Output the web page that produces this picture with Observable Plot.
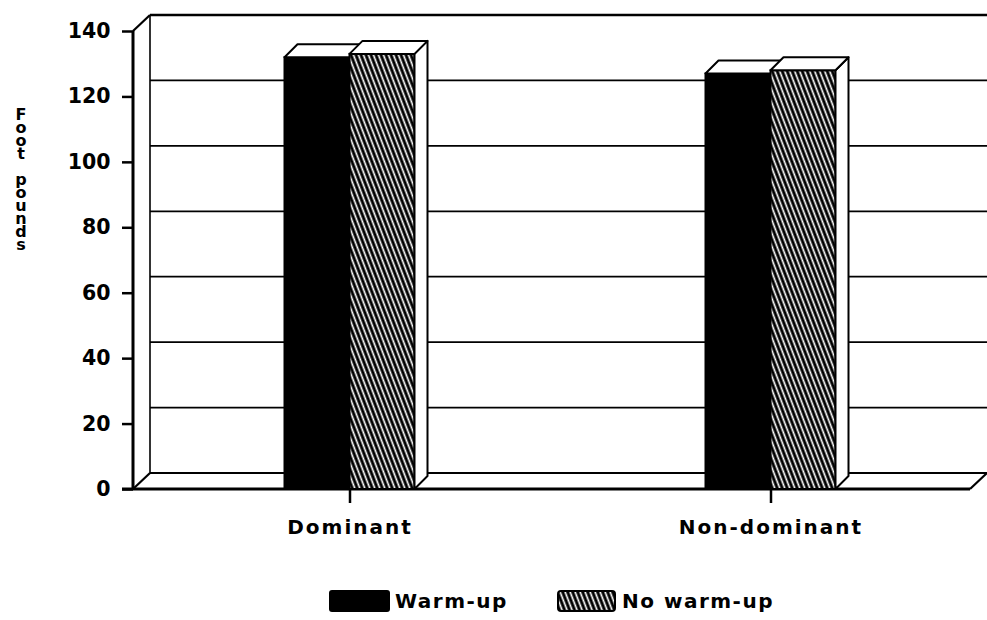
<!DOCTYPE html>
<html><head><meta charset="utf-8">
<script src="https://cdn.jsdelivr.net/npm/d3@7"></script>
<script src="https://cdn.jsdelivr.net/npm/@observablehq/plot@0.6"></script>
<style>
body{margin:0;background:#fff;font-family:"DejaVu Sans",sans-serif;}
#chart svg{display:block;}
#legend{position:relative;width:987px;height:60px;font-weight:bold;font-size:20px;letter-spacing:1.5px;color:#000;}
#legend .sw{position:absolute;top:30px;}
#legend .lab{position:absolute;top:29px;line-height:24px;white-space:nowrap;}
.ytitle{writing-mode:vertical-rl;text-orientation:upright;}
</style></head>
<body>
<div id="chart"></div>
<div id="legend"></div>
<script>
// ---- data ----
const categories = ["Dominant", "Non-dominant"];
const series = ["Warm-up", "No warm-up"];
const warmUp = [132, 127];
const noWarmUp = [133, 128];
const yTicks = [0, 20, 40, 60, 80, 100, 120, 140];
const yTitle = "Foot pounds";

const data = categories.flatMap((c, i) => [
  {category: c, series: series[0], value: warmUp[i]},
  {category: c, series: series[1], value: noWarmUp[i]}
]);

// ---- layout constants ----
const W = 987, H = 560;
const xRange = [138.5, 980.5];
const bw = (xRange[1] - xRange[0]) / categories.length;
const BAR_W = 65;
const FL = 133, FR = 970;   // front floor edge extents
const WD = 17, WDY = 16;    // wall depth
const BD = 13;              // bar depth

const plot = Plot.plot({
  width: W, height: H,
  marginLeft: 133, marginRight: 17, marginTop: 31, marginBottom: 71,
  style: {fontFamily: "DejaVu Sans", fontSize: "20px", fontWeight: "bold", color: "#000", background: "#fff", overflow: "visible"},
  x: {type: "band", domain: categories, range: xRange, padding: 0},
  y: {domain: [0, 140]},
  marks: [
    Plot.axisY({ticks: yTicks, tickSize: 11, tickPadding: 12, label: null, strokeWidth: 2.5, fontSize: 20.5}),
    Plot.axisX({tickSize: 14, tickPadding: 16, label: null, strokeWidth: 2.5, fontSize: 20}),
    Plot.barY(data.filter(d => d.series === series[0]), {
      x: "category", y: "value", fill: "#000", stroke: "#000", strokeWidth: 2,
      insetLeft: bw / 2 - BAR_W, insetRight: bw / 2
    }),
    Plot.barY(data.filter(d => d.series === series[1]), {
      x: "category", y: "value", fill: "url(#hatch)", stroke: "#000", strokeWidth: 2,
      insetLeft: bw / 2, insetRight: bw / 2 - BAR_W
    })
  ]
});
document.getElementById("chart").appendChild(plot);

const xs = plot.scale("x"), ys = plot.scale("y");
const X = xs.apply ? (v => xs.apply(v)) : d3.scaleBand(xs.domain, xs.range).paddingInner(xs.paddingInner || 0).paddingOuter(xs.paddingOuter || 0).align(xs.align ?? 0.5);
const Y = ys.apply ? (v => ys.apply(v)) : d3.scaleLinear(ys.domain, ys.range);
const band = xs.bandwidth;

const svg = d3.select(plot);
svg.selectAll('g[aria-label="x-axis tick label"] text').attr("letter-spacing", 2);

// pattern
const defs = svg.insert("defs", ":first-child");
const pat = defs.append("pattern").attr("id", "hatch").attr("patternUnits", "userSpaceOnUse")
  .attr("width", 5).attr("height", 10).attr("patternTransform", "skewX(21)");
pat.append("rect").attr("width", 5).attr("height", 10).attr("fill", "#000");
pat.append("rect").attr("x", 1.5).attr("width", 1.8).attr("height", 10).attr("fill", "#fff");

// back wall, floor, left wall (behind bars)
const back = svg.insert("g", "g").attr("fill", "none").attr("stroke", "#000");
const y0 = Y(0), yTop = Y(140);
const ln = (x1, y1, x2, y2, w) => back.append("line").attr("x1", x1).attr("y1", y1).attr("x2", x2).attr("y2", y2).attr("stroke-width", w);
yTicks.filter(v => v > 0 && v < 140).forEach(v => ln(FL + WD, Y(v) - WDY, W, Y(v) - WDY, 1.8));
ln(FL + WD, yTop - WDY, W, yTop - WDY, 2.5);
ln(FL + WD, y0 - WDY, FR + WD, y0 - WDY, 2.2);
ln(FL + WD, yTop - WDY, FL + WD, y0 - WDY, 1.6);
ln(FL, yTop, FL + WD, yTop - WDY, 2.2);
ln(FL, y0, FL + WD, y0 - WDY, 2.2);
ln(FL - 11, y0, FR, y0, 2.8);
ln(FR, y0, FR + WD, y0 - WDY, 2.2);
ln(FL, y0, FL, yTop, 3);

// 3D faces for bars, inserted right after each bar mark
const barGroups = plot.querySelectorAll('g[aria-label="bar"]');
series.forEach((s, si) => {
  const g = d3.create("svg:g").attr("fill", "#fff").attr("stroke", "#000").attr("stroke-width", 2).attr("stroke-linejoin", "round");
  data.filter(d => d.series === s).forEach(d => {
    const c = X(d.category) + band / 2;
    const x0 = si === 0 ? c - BAR_W : c, x1 = si === 0 ? c : c + BAR_W;
    const yt = Y(d.value);
    g.append("polygon").attr("points", [[x1, yt], [x1 + BD, yt - BD], [x1 + BD, y0 - BD], [x1, y0]].join(" "));
    g.append("polygon").attr("points", [[x0, yt], [x1, yt], [x1 + BD, yt - BD], [x0 + BD, yt - BD]].join(" "));
  });
  barGroups[si].after(g.node());
});

// stacked (upright vertical) y title
svg.append("text").attr("class", "ytitle").attr("x", 21).attr("y", 176)
  .attr("text-anchor", "middle")
  .attr("font-size", 16).attr("font-weight", "bold").attr("fill", "#000")
  .attr("letter-spacing", -6).text(yTitle);

// legend
const legend = d3.select("#legend");
const sw1 = legend.append("svg").attr("class", "sw").style("left", "329px").attr("width", 61).attr("height", 22);
sw1.append("rect").attr("width", 61).attr("height", 22).attr("rx", 3).attr("fill", "#000");
legend.append("span").attr("class", "lab").style("left", "395px").text(series[0]);
const sw2 = legend.append("svg").attr("class", "sw").style("left", "557px").attr("width", 59).attr("height", 22);
const p2 = sw2.append("defs").append("pattern").attr("id", "hatch2").attr("patternUnits", "userSpaceOnUse")
  .attr("width", 5).attr("height", 10).attr("patternTransform", "skewX(21)");
p2.append("rect").attr("width", 5).attr("height", 10).attr("fill", "#000");
p2.append("rect").attr("x", 1.5).attr("width", 1.8).attr("height", 10).attr("fill", "#fff");
sw2.append("rect").attr("x", 1).attr("y", 1).attr("width", 57).attr("height", 20).attr("rx", 3).attr("fill", "url(#hatch2)").attr("stroke", "#000").attr("stroke-width", 2);
legend.append("span").attr("class", "lab").style("left", "622px").text(series[1]);
</script>
</body></html>
